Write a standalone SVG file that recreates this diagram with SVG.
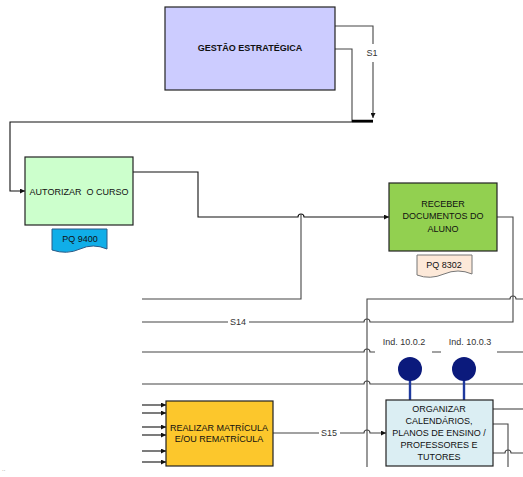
<svg xmlns="http://www.w3.org/2000/svg" width="523" height="477" viewBox="0 0 523 477">
<defs>
<marker id="arr" markerWidth="5" markerHeight="5" refX="5" refY="2.5" orient="auto" markerUnits="userSpaceOnUse">
<path d="M0,0 L5,2.5 L0,5 z" fill="#111"/>
</marker>
<style>
.ln{fill:none;stroke:#454545;stroke-width:1.1}
.bk{fill:none;stroke:#111;stroke-width:1.1}
.box{stroke:#222;stroke-width:1.2}
.t{font-family:"Liberation Sans",Arial,sans-serif;font-size:9px;fill:#111;text-anchor:middle}
.b{font-weight:bold}
.lbl{font-family:"Liberation Sans",Arial,sans-serif;font-size:9px;fill:#333;text-anchor:middle}
.stem{stroke:#1f3a9e;stroke-width:2.4}
.dot{fill:#0b1a7c}
</style>
</defs>
<rect width="523" height="477" fill="#fff"/>

<g id="connectors">
<path class="ln" d="M335,26 H373 V118" marker-end="url(#arr)"/>
<path class="ln" d="M335,49 H352 V122"/>
<path class="bk" d="M373,122 H10 V191 H25" marker-end="url(#arr)"/>
<path d="M352,121 H373" stroke="#000" stroke-width="2.5"/>
<path class="bk" d="M133,172 H198 V217 H298 a3,3 0 0 1 6,0 H389" marker-end="url(#arr)"/>
<path class="ln" d="M301,214 V299 H142"/>
<path class="ln" d="M497,217 H513 V322 H370 a3,3 0 0 0 -6,0 H142"/>
<path class="ln" d="M367,467 V299 H510 a3,3 0 0 1 6,0 H523"/>
<path class="ln" d="M142,352 H364 a3,3 0 0 1 6,0 H523"/>
<path class="ln" d="M142,384 H364 a3,3 0 0 1 6,0 H523"/>
<path class="ln" d="M273,433 H364 a3,3 0 0 1 6,0 H386" marker-end="url(#arr)"/>
<path class="ln" d="M493,409 H523"/>
<path class="ln" d="M493,424 H508 V467"/>
<path class="ln" d="M493,453 H505 a3,3 0 0 1 6,0 H523"/>
<path class="bk" d="M142,405 H166" marker-end="url(#arr)"/>
<path class="bk" d="M142,413 H166" marker-end="url(#arr)"/>
<path class="bk" d="M142,427 H166" marker-end="url(#arr)"/>
<path class="bk" d="M142,435 H166" marker-end="url(#arr)"/>
<path class="bk" d="M142,451 H166" marker-end="url(#arr)"/>
<path class="bk" d="M142,462 H166" marker-end="url(#arr)"/>
<rect x="364" y="44" width="16" height="18" fill="#fff"/>
<text class="lbl" x="372" y="56">S1</text>
<rect x="228" y="317" width="21" height="10" fill="#fff"/>
<text class="lbl" x="238" y="325">S14</text>
<rect x="319" y="428" width="21" height="10" fill="#fff"/>
<text class="lbl" x="329" y="436">S15</text>
</g>

<g id="ind-1002">
<rect x="375" y="334" width="57" height="19" fill="#fff"/>
<text class="lbl" x="404" y="345">Ind. 10.0.2</text>
<line class="stem" x1="410" y1="380" x2="410" y2="400"/>
<circle class="dot" cx="410" cy="369" r="12"/>
</g>
<g id="ind-1003">
<rect x="441" y="334" width="56" height="19" fill="#fff"/>
<text class="lbl" x="470" y="345">Ind. 10.0.3</text>
<line class="stem" x1="464" y1="380" x2="464" y2="400"/>
<circle class="dot" cx="464" cy="369" r="12"/>
</g>

<g id="gestao">
<rect class="box" x="165" y="7" width="170" height="83" fill="#ccccff"/>
<text class="t b" x="250" y="51">GESTÃO ESTRATÉGICA</text>
</g>

<g id="autorizar">
<rect class="box" x="25" y="157" width="108" height="68" fill="#ccffcc"/>
<text class="t" x="79" y="195" xml:space="preserve">AUTORIZAR  O CURSO</text>
</g>

<g id="pq9400">
<path d="M52,229 H107 V249 Q93,243 80,249 T52,250 Z" fill="#10aee8" stroke="#2a5a86" stroke-width="1"/>
<text class="t" x="80" y="242">PQ 9400</text>
</g>

<g id="receber">
<rect class="box" x="389" y="183" width="108" height="68" fill="#92d050"/>
<text class="t" x="443" y="207">RECEBER</text>
<text class="t" x="443" y="219">DOCUMENTOS DO</text>
<text class="t" x="443" y="232">ALUNO</text>
</g>

<g id="pq8302">
<path d="M417,255 H472 V274 Q458,268 444,274 T417,275 Z" fill="#fde9d9" stroke="#777" stroke-width="1"/>
<text class="t" x="444" y="268">PQ 8302</text>
</g>

<g id="realizar">
<rect class="box" x="166" y="401" width="107" height="65" fill="#fcc72c"/>
<text class="t" x="219" y="431">REALIZAR MATRÍCULA</text>
<text class="t" x="219" y="442">E/OU REMATRÍCULA</text>
</g>

<g id="organizar">
<rect class="box" x="386" y="400" width="107" height="66" fill="#dbeef3"/>
<text class="t" x="439" y="412">ORGANIZAR</text>
<text class="t" x="439" y="424">CALENDÁRIOS,</text>
<text class="t" x="439" y="436">PLANOS DE ENSINO /</text>
<text class="t" x="439" y="448">PROFESSORES E</text>
<text class="t" x="439" y="460">TUTORES</text>
</g>

<text x="2" y="471" font-family="Liberation Sans, sans-serif" font-size="6" fill="#777">..</text>
</svg>
